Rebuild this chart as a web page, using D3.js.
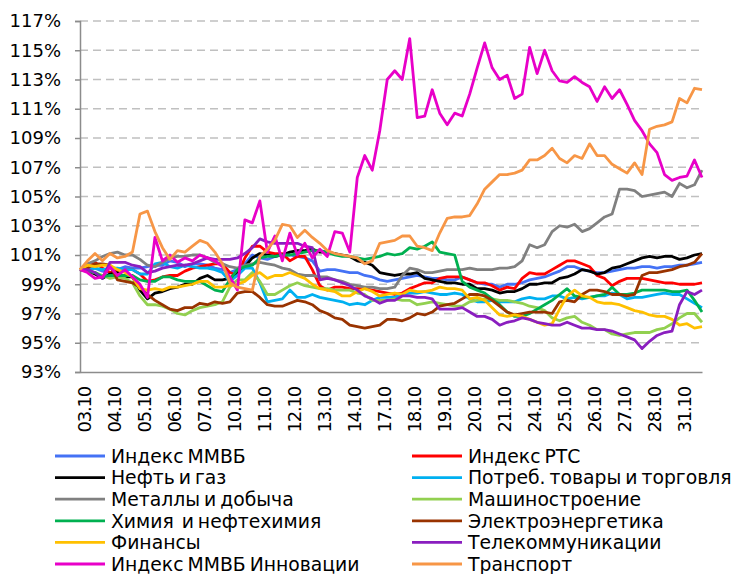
<!DOCTYPE html>
<html>
<head>
<meta charset="utf-8">
<script src="https://cdn.jsdelivr.net/npm/d3@7"></script>
<style>
  body { margin: 0; background: #fff; }
  svg text { font-family: "DejaVu Sans", Verdana, sans-serif; fill: #000; }
  .lbl { font-size: 18px; }
  .leg { font-size: 18.8px; white-space: pre; word-spacing: -2px; }
</style>
</head>
<body>
<div id="chart"></div>
<script>
// day labels, 4 readings per trading day
var days = ["03.10","04.10","05.10","06.10","07.10","10.10","11.10","12.10","13.10","14.10",
            "17.10","18.10","19.10","20.10","21.10","24.10","25.10","26.10","27.10","28.10","31.10"];
var perDay = 4;
var yTicks = [93, 95, 97, 99, 101, 103, 105, 107, 109, 111, 113, 115, 117];

var names = ["Индекс ММВБ", "Индекс РТС", "Нефть и газ", "Потреб. товары и торговля",
             "Металлы и добыча", "Машиностроение", "Химия  и нефтехимия", "Электроэнергетика",
             "Финансы", "Телекоммуникации", "Индекс ММВБ Инновации", "Транспорт"];
var colors = ["#4472f5", "#ff0000", "#000000", "#00b0f0", "#808080", "#92d050",
              "#00b050", "#993300", "#ffc000", "#8a1ebf", "#e800c8", "#f79646"];

var mmvb = [100,100,100.1,99.9, 99.8,100,100.2,100.1, 100.1,100.2,100.3,100.3,
  100.6,100.5,100.2,100.4, 100.4,100.3,100.1,100, 99.8,100,100.4,101,
  100.8,100.7,100.9,101, 101,100.9,100.8,100.6, 99.9,100,100,99.9,
  99.8,99.8,99.6,99.5, 99.3,99.2,99.3,99.4, 99.5,99.6,99.5,99.4,
  99.4,99.3,99.3,99.5, 99.3,99.1,99,99, 98.8,99,99,99.1,
  99.3,99.4,99.5,99.7, 99.9,100.2,100.2,100, 99.9,99.8,99.8,99.9,
  100,100.1,100.1,100.2, 100.2,100.1,100.2,100.2, 100.3,100.3,100.4,100.5];
var rts = [100,100.4,100.5,100.1, 99.8,99.9,100,100, 99.7,99.2,99.3,99.5,
  99.6,99.6,99.9,100.1, 100.2,100.3,100.4,100.4, 99.8,99.6,100.8,101.6,
  101.6,101.2,101.1,101.1, 100.6,100.9,100.9,100, 98.9,98.6,98.8,98.8,
  98.7,98.7,98.7,98.6, 98.5,98.4,98.3,98.4, 98.7,98.9,99.1,99.1,
  99.4,99.5,99.5,99.5, 99.3,99.1,99.1,98.9, 98.6,98.8,98.7,99.4,
  99.8,99.7,99.7,100, 100.3,100.6,100.6,100.4, 100.2,99.6,99.4,98.9,
  99.2,99.4,99.4,99.4, 99.3,99.2,99.1,99.1, 99,99,99,99.1];
var oil = [100,99.9,99.7,99.4, 99.7,99.8,99.5,99.5, 98.6,98,98.4,98.5,
  98.7,98.8,99,99, 99.4,99.6,99.3,99.3, 99.4,99.8,100.2,100.8,
  101.1,101,100.9,101, 101.2,101.3,101.3,101.4, 101.2,101.2,101.1,101,
  100.9,100.6,100.5,100.3, 99.8,99.7,99.6,99.7, 99.7,99.8,99.4,99.3,
  99.2,99.1,99.1,99, 99,98.7,98.7,98.6, 98.4,98.5,98.5,98.7,
  99,99,99.1,99.1, 99.4,99.5,99.7,100, 99.9,99.7,99.8,100.1,
  100.2,100.4,100.6,100.8, 100.9,100.8,100.9,100.9, 100.7,100.8,101,101.1];
var consumer = [100,100,100.1,100, 100.1,100.1,100,100, 99.7,99.7,100.4,100.5,
  100.2,100.1,100.3,100.2, 100.1,100.1,100,99.8, 99.2,99.6,100.1,100.1,
  99.1,97.8,97.9,98, 98.6,98.1,98.1,98.3, 98.1,98,97.9,97.8,
  97.6,97.7,97.6,97.9, 98.1,98.1,98.1,98.3, 98.4,98.4,98.5,98.4,
  98.3,98.3,98.4,98.3, 98,97.8,97.8,97.9, 97.8,97.8,97.8,98,
  98.1,98,98,98.2, 98.2,98,98.1,98, 98.1,98.2,98.2,98.4,
  98.3,98,98.1,98.1, 98.2,98.3,98.4,98.3, 98.3,98,97.7,97.4];
var metals = [100,100.4,100.6,100.9, 101.1,101.2,101,101, 100.7,100.3,100.2,100.5,
  100.8,100.9,100.9,101, 101,100.8,100.5,100.4, 100.2,100.1,100.3,100.4,
  100.5,100.4,100.3,100.1, 100,99.7,99.6,99.6, 99.5,99.5,99.3,99.2,
  99,98.9,98.8,98.8, 98.7,98.7,98.8,99.6, 100.1,100,99.8,99.8,
  99.9,100,100,100, 100.1,100,100,100, 100.1,100.1,100.2,100.6,
  101.7,101.5,101.7,102.6, 103,102.9,103.1,102.6, 102.8,103.2,103.6,103.8,
  105.5,105.5,105.4,105, 105.1,105.2,105.3,105, 105.9,105.6,105.8,106.8];
var machinery = [100,99.9,99.8,99.6, 99.4,99.5,99.4,99.1, 98.2,97.6,97.6,97.5,
  97.3,97,96.9,97.2, 97.4,97.5,97.6,97.8, 98.8,99.3,99.3,99.8,
  99.2,98.3,98.3,98.6, 98.9,99.1,98.9,98.8, 98.7,98.7,98.6,98.6,
  98.6,98.4,98.3,97.9, 97.9,97.9,98,97.9, 97.9,97.6,97.7,97.8,
  97.7,97.6,97.5,97.5, 97.8,97.9,98,98, 97.9,97.9,97.8,97.7,
  97.5,97.4,97.2,96.7, 96.5,96.7,96.8,96.4, 96.2,95.9,95.9,95.6,
  95.5,95.6,95.7,95.7, 95.7,95.9,96,96.3, 96.7,97,97,96.4];
var chem = [100,99.9,99.8,99.5, 99.6,99.6,99.6,99.6, 99.3,99.2,99.2,99.5,
  99.5,99.3,99.2,99.2, 99.2,98.9,98.6,98.5, 99.3,100,100.2,100.3,
  100.8,100.9,100.9,101, 101,101.1,101.2,101.3, 101.3,101.2,101,100.9,
  100.9,100.8,100.7,100.8, 100.9,101.1,101,101.1, 101.5,101.4,101.6,101.9,
  101.2,101.1,101,99.2, 98.8,98.6,98.4,98, 97.6,97.1,96.8,96.8,
  97,97.3,97.6,97.9, 98.3,98.7,98.2,98.1, 98.1,98.2,98.3,98.8,
  98.3,98.3,98.4,98.6, 98.6,98.6,98.6,98.5, 98.5,98.6,97.9,97.1];
var power = [100,100.1,100.4,100.4, 100.3,99.3,99.2,99.1, 98.8,98.3,97.9,97.6,
  97.3,97.2,97.4,97.4, 97.7,97.6,97.8,97.7, 97.8,98.4,98.5,98.5,
  98.1,97.6,97.5,97.5, 97.7,97.9,97.8,97.6, 97.2,97,96.7,96.6,
  96.2,96.1,96,96.1, 96.2,96.6,96.6,96.5, 96.7,97,96.9,97.1,
  97.5,97.6,97.7,98, 98.3,98.3,98.2,97.9, 97.5,97.1,96.9,97,
  97.1,97.1,97.1,97, 97.8,97.9,97.8,98.3, 98.6,98.6,98.5,98.3,
  98.3,98.2,98.3,99.6, 99.8,99.8,99.9,100, 100.2,100.3,100.5,101.1];
var finance = [100,100.3,100.2,100.3, 100.3,100,99.8,99.5, 98.7,98.6,98.7,98.6,
  98.8,98.8,98.9,99, 99.2,99.2,98.8,98.8, 98.9,99,99.2,99.6,
  99.8,99.4,99.6,99.6, 99.8,99.6,99.4,99, 98.7,98.6,98.5,98.2,
  98.2,98.5,98.7,98.5, 98.2,98.3,98.4,98.3, 98.6,98.5,98.5,98.6,
  98.8,98.7,98.7,98.6, 98,98.1,97.9,97.4, 96.9,96.8,96.9,96.8,
  96.6,96.4,96.2,96.3, 97.3,98.2,98.6,98.2, 98.1,97.8,97.7,97.7,
  97.6,97.4,97.2,97.1, 96.9,96.8,96.8,96.6, 96.2,96.3,96,96.1];
var telecom = [100,100,99.8,99.4, 100.5,100.5,100.5,100.3, 100.2,99.8,99.9,100.1,
  100.2,100.3,100.3,100.4, 100.6,100.8,100.7,100.7, 100.7,100.8,101.1,101.5,
  102.1,101.9,101.8,101.8, 101.8,101.8,101.6,101.5, 99.3,99.4,99.3,99.1,
  98.9,98.6,98.2,98, 97.7,97.9,97.9,98.2, 98.2,98.1,98.1,98,
  97.3,97.3,97.3,97.4, 97.1,96.8,96.8,96.6, 96.2,96.4,96.5,96.7,
  96.6,96.4,96.3,96.2, 96.2,96.4,96.2,96, 96,95.9,95.9,95.8,
  95.6,95.4,95.2,94.6, 95.1,95.5,95.7,95.8, 97.6,98.5,98.3,98.6];
var innov = [100,99.8,99.4,99.5, 100.2,99.6,100,99.5, 99,98.1,102.2,100.6,
  101,100.5,100.8,100.6, 101,100.8,100.6,100.2, 99.5,98.6,103.4,103.2,
  104.7,101.2,102.3,100.6, 102.5,101,101.8,100.8, 101.4,100.9,102.6,102.5,
  101.2,106.3,107.8,106.8, 109.5,113,113.6,113, 115.8,110.4,110.5,112.3,
  110.7,109.9,110.7,110.5, 112,113.8,115.5,113.8, 113,113.3,111.7,112,
  115.2,113.4,115,113.6, 112.9,112.8,113.2,112.8, 112.5,111.5,112.5,111.7,
  112.3,111.3,110.2,109.5, 108.6,108,106.5,106.1, 106.3,106.4,107.5,106.3];
var transport = [100,100.6,101.1,100.6, 101.1,100.8,100.9,101.2, 103.8,104,102.6,101.5,
  100.7,101.3,101.2,101.6, 102,101.8,101.2,100.4, 99.1,98.8,98.7,98.6,
  100.9,101.4,102,103.1, 103,102.2,102.7,102.2, 101.8,101.3,101.1,101,
  100.9,100.8,100.4,100.6, 101.8,101.9,102,102.3, 102.3,101.6,101.5,101.3,
  102.5,103.5,103.6,103.6, 103.7,104.5,105.5,106, 106.5,106.5,106.6,106.8,
  107.5,107.5,107.8,108.3, 107.6,107.3,107.8,107.6, 108.6,107.8,107.8,107.2,
  106.9,106.6,107.3,106.5, 109.6,109.8,109.9,110.1, 111.7,111.4,112.4,112.3];

var seriesValues = [mmvb, rts, oil, consumer, metals, machinery, chem, power,
                    finance, telecom, innov, transport];

var width = 734, height = 574;
var plotLeft = 80, plotRight = 702, plotTop = 21, plotBottom = 372;
var n = mmvb.length;

var svg = d3.select("#chart").append("svg")
  .attr("width", width).attr("height", height);

var x = d3.scaleLinear().domain([0, n - 1]).range([plotLeft, plotRight]);
var y = d3.scaleLinear().domain([93, 117]).range([plotBottom, plotTop]);

// dashed gridlines
svg.append("g").selectAll("line")
  .data(yTicks.filter(function(d) { return d > 93; }))
  .enter().append("line")
  .attr("x1", plotLeft).attr("x2", plotRight)
  .attr("y1", function(d) { return y(d); })
  .attr("y2", function(d) { return y(d); })
  .attr("stroke", "#c0c0c0")
  .attr("stroke-width", 1.5)
  .attr("stroke-dasharray", "8,5");

// y axis
var yAxis = svg.append("g")
  .attr("transform", "translate(" + plotLeft + ",0)")
  .call(d3.axisLeft(y).tickValues(yTicks)
    .tickFormat(function(d) { return d + "%"; })
    .tickSize(5).tickPadding(14));
yAxis.selectAll("path, line").attr("stroke", "#8c8c8c").attr("stroke-width", 1.5);
yAxis.selectAll("text").attr("class", "lbl").attr("font-size", null).attr("font-family", null)
  .attr("fill", "#000");

// x axis with vertical day labels
var xAxis = svg.append("g")
  .attr("transform", "translate(0," + plotBottom + ")")
  .call(d3.axisBottom(x)
    .tickValues(days.map(function(d, i) { return i * perDay; }))
    .tickFormat(function(d) { return days[d / perDay]; })
    .tickSize(0));
xAxis.select("path").attr("stroke", "#8c8c8c").attr("stroke-width", 1.5);
xAxis.selectAll("text")
  .attr("class", "lbl").attr("font-size", null).attr("font-family", null)
  .attr("fill", "#000")
  .attr("letter-spacing", "-1.2px")
  .attr("text-anchor", "end")
  .attr("dy", null)
  .attr("dominant-baseline", "central")
  .attr("transform", "translate(4,15) rotate(-90)")
  .attr("y", 0).attr("x", 0);

// series lines
var line = d3.line()
  .x(function(d, i) { return x(i); })
  .y(function(d) { return y(d); });

svg.append("g").selectAll("path")
  .data(seriesValues)
  .enter().append("path")
  .attr("d", line)
  .attr("fill", "none")
  .attr("stroke", function(d, i) { return colors[i]; })
  .attr("stroke-width", 2.8)
  .attr("stroke-linejoin", "round");

// legend, two columns
var leg = svg.append("g").selectAll("g")
  .data(names)
  .enter().append("g")
  .attr("transform", function(d, i) {
    var col = i % 2, row = Math.floor(i / 2);
    return "translate(" + (col ? 412 : 55) + "," + (456 + row * 21.6) + ")";
  });
leg.append("line")
  .attr("x1", 0).attr("x2", 50)
  .attr("stroke", function(d, i) { return colors[i]; })
  .attr("stroke-width", 2.8);
leg.append("text")
  .attr("class", "leg")
  .attr("x", 56).attr("dy", "0.36em")
  .text(function(d) { return d; });
</script>
</body>
</html>
